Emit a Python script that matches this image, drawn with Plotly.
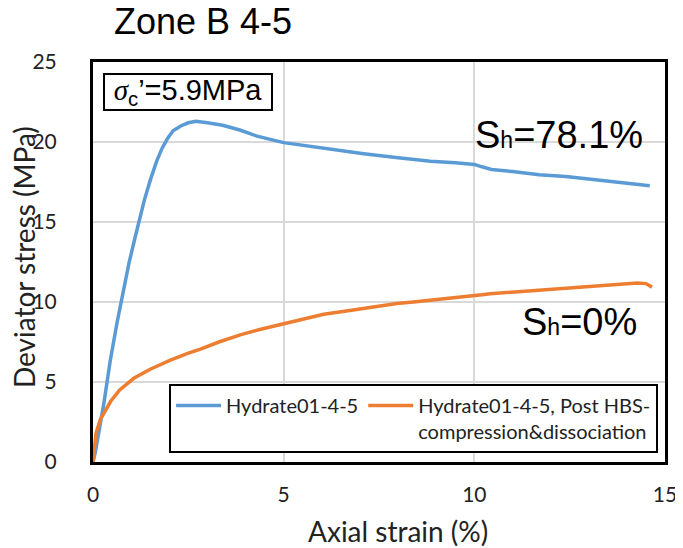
import plotly.graph_objects as go

# ---- data ----
hyd_strain = [0, 0.06, 0.28, 0.45, 0.63, 0.79, 0.95, 1.1, 1.22, 1.35, 1.5, 1.67, 1.81, 1.95,
              2.1, 2.3, 2.5, 2.7, 3.0, 3.4, 3.85, 4.3, 5.0, 5.9, 7.1, 8.0, 8.85, 9.5, 10.0,
              10.2, 10.45, 11.0, 11.7, 12.4, 13.0, 13.9, 14.6]
hyd_stress = [0, 0.6, 3.6, 6.3, 8.7, 10.7, 12.5, 14.0, 15.2, 16.4, 17.6, 18.8, 19.6, 20.2,
              20.7, 21.0, 21.2, 21.3, 21.2, 21.05, 20.75, 20.37, 19.96, 19.65, 19.27, 19.02,
              18.8, 18.7, 18.6, 18.45, 18.28, 18.15, 17.95, 17.85, 17.7, 17.47, 17.26]

post_strain = [0, 0.03, 0.08, 0.19, 0.3, 0.46, 0.7, 1.07, 1.5, 2.03, 2.5, 2.82, 3.3, 3.86,
               4.4, 5.0, 5.5, 6.05, 6.6, 7.1, 7.5, 7.97, 8.4, 8.85, 9.4, 9.98, 10.2, 10.42,
               11.0, 11.73, 12.4, 13.04, 13.6, 14.27, 14.5, 14.66]
post_stress = [0, 0.9, 1.8, 2.64, 3.1, 3.78, 4.5, 5.23, 5.8, 6.37, 6.8, 7.05, 7.5, 7.95,
               8.3, 8.65, 8.95, 9.23, 9.42, 9.59, 9.75, 9.9, 10.0, 10.1, 10.22, 10.35, 10.45,
               10.52, 10.62, 10.77, 10.88, 10.98, 11.07, 11.18, 11.15, 10.93]

series_names = ["Hydrate01-4-5",
                "Hydrate01-4-5, Post HBS-<br>compression&amp;dissociation"]
x_ticks = [0, 5, 10, 15]
y_ticks = [0, 5, 10, 15, 20, 25]

BLUE = "#5B9BD5"
ORANGE = "#ED7D31"
TXT = "#222222"
TICKFONT = dict(family="Lato", size=21, color=TXT)
TITLEFONT = dict(family="Lato", size=28, color=TXT)

fig = go.Figure()
fig.add_trace(go.Scatter(x=hyd_strain, y=hyd_stress, mode="lines", name=series_names[0],
                         line=dict(color=BLUE, width=3.5)))
fig.add_trace(go.Scatter(x=post_strain, y=post_stress, mode="lines", name=series_names[1],
                         line=dict(color=ORANGE, width=3.5)))

# page body has an 8px margin, so the figure is 8px smaller and margins 8px less
fig.update_layout(
    width=675, height=540,
    margin=dict(l=85, r=18, t=54, b=86, autoexpand=False),
    paper_bgcolor="white", plot_bgcolor="white",
    showlegend=True,
    legend=dict(orientation="h", x=0.133, y=0.0225, xanchor="left", yanchor="bottom",
                bordercolor="black", borderwidth=2, bgcolor="white",
                font=dict(family="Lato", size=20, color=TXT),
                valign="top", itemwidth=45, tracegroupgap=0),
)
fig.update_xaxes(range=[0, 15], tickvals=x_ticks, showgrid=True, gridcolor="#d9d9d9",
                 gridwidth=1.5, showline=True, linecolor="black", linewidth=3, mirror=True,
                 zeroline=False, ticks="", tickfont=TICKFONT, ticklabelstandoff=12,
                 automargin=False)
fig.update_yaxes(range=[0, 25], tickvals=y_ticks, showgrid=True, gridcolor="#d9d9d9",
                 gridwidth=1.5, showline=True, linecolor="black", linewidth=3, mirror=True,
                 zeroline=False, ticks="", tickfont=TICKFONT, ticklabelstandoff=29,
                 automargin=False)

# helpers: window pixel -> paper fraction (plot area spans 93..665 x 62..462 in the window)
def px(xp):
    return (xp - 93) / 572

def py(yp):
    return (462 - yp) / 400

# axis titles
fig.add_annotation(text="Axial strain (%)", xref="paper", yref="paper",
                   x=px(398), y=py(531), xanchor="center", yanchor="middle",
                   showarrow=False, font=TITLEFONT)
fig.add_annotation(text="Deviator stress (MPa)", xref="paper", yref="paper",
                   x=px(24), y=py(257), xanchor="center", yanchor="middle", textangle=-90,
                   showarrow=False, font=TITLEFONT)
# Title
fig.add_annotation(text="Zone B 4-5", xref="paper", yref="paper",
                   x=px(112), y=py(22), xanchor="left", yanchor="middle",
                   showarrow=False, font=dict(family="Liberation Sans", size=36, color="black"))
# Confining stress box
fig.add_annotation(text="<span style=\"font-family:'Liberation Serif'\"><i>σ</i></span><sub>c</sub>’=5.9MPa",
                   xref="paper", yref="paper", x=px(188), y=py(92),
                   xanchor="center", yanchor="middle", showarrow=False,
                   width=166, height=34, align="center",
                   bordercolor="black", borderwidth=2, borderpad=0, bgcolor="white",
                   font=dict(family="Liberation Sans", size=29, color="black"))
# Saturation labels
fig.add_annotation(text="S<span style=\"font-size:23px\">h</span>=78.1%",
                   xref="paper", yref="paper", x=px(645), y=py(135),
                   xanchor="right", yanchor="middle", showarrow=False,
                   font=dict(family="Liberation Sans", size=38, color="black"))
fig.add_annotation(text="S<span style=\"font-size:23px\">h</span>=0%",
                   xref="paper", yref="paper", x=px(639), y=py(322),
                   xanchor="right", yanchor="middle", showarrow=False,
                   font=dict(family="Liberation Sans", size=38, color="black"))

# Edge of neighbouring panel visible at the right
edge = dict(color="black", width=1.2)
fig.add_shape(type="line", xref="paper", yref="paper", x0=px(678), x1=px(678), y0=py(61), y1=py(355), line=edge)
for yy in [61, 355]:
    fig.add_shape(type="line", xref="paper", yref="paper", x0=px(678), x1=px(684), y0=py(yy), y1=py(yy), line=edge)
for yy in [149, 212, 285]:
    fig.add_shape(type="line", xref="paper", yref="paper", x0=px(676), x1=px(684), y0=py(yy), y1=py(yy), line=edge)

fig.write_html("out.html")
